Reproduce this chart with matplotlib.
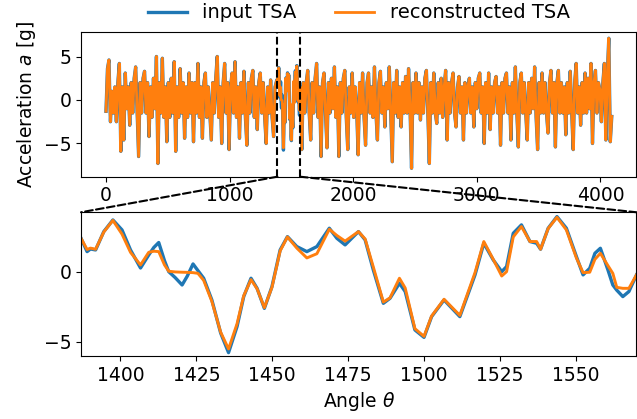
import matplotlib
matplotlib.use('Agg')
import matplotlib.pyplot as plt
from matplotlib.patches import ConnectionPatch
import numpy as np

# full TSA, one value every 12 steps (left of the zoom window)
before_value = [-1.3, 3.6, 4.6, -2.5, 1.0, -1.5, 1.5, -2.5, 2.0, 4.2,
                -5.9, 1.5, -4.6, 3.1, -1.0, 1.5, -2.9, 2.0, -1.5, 2.5,
                3.8, -1.5, -6.5, 2.0, -1.5, 2.5, 3.3, -1.5, 2.0, -4.2,
                1.5, -2.0, 2.5, -1.0, 5.0, -7.3, 2.0, -1.5, 4.8, -2.0,
                1.5, -4.8, 2.0, -2.0, 2.5, -1.5, 4.4, -5.9, 1.5, -2.0,
                3.6, -1.5, 2.0, -4.4, 1.5, -2.0, 3.1, -1.5, 2.0, -4.8,
                2.0, -1.5, 4.2, -2.0, 1.5, -4.4, 2.0, 3.1, -2.0, 1.5,
                -1.5, -4.6, 2.0, -1.5, 2.5, 5.0, -2.0, 1.5, -5.0, 2.0,
                4.2, -1.5, 2.0, -5.7, 1.5, 3.1, -1.5, 4.4, -2.0, 1.5,
                -4.4, 2.0, -1.5, 3.3, -2.0, -5.2, 2.0, -1.5, 2.5, 3.4,
                -2.0, 1.5, -3.4, 2.0, 3.1, -1.5, 2.0, -2.0, -5.0, 1.5,
                -1.5, 2.3, -2.0, -4.2, 1.5, 2.2]
# same, right of the zoom window (angles 1572 ... 4092)
after_value = [1.5, -5.7, 2.0, -1.5, 2.0, 3.4, -1.5, -4.6, 2.0, -1.5,
               2.5, 4.2, -2.0, 1.5, -6.5, 2.0, 3.1, -1.5, -5.5, 2.0,
               -1.5, 2.5, -1.0, 3.8, -2.0, 1.5, -6.5, 2.0, -1.5, 2.5,
               3.4, -2.0, -5.7, 1.5, -1.5, 3.1, -2.0, 1.5, -1.0, -6.3,
               2.0, -1.5, 3.1, -2.0, -5.2, 2.0, 3.1, -1.5, 1.5, -2.0,
               3.8, -1.5, -4.6, 2.0, 3.3, -1.5, 1.5, -3.1, 2.0, -1.0,
               3.8, -1.5, -7.1, 2.0, -1.5, 3.4, -2.0, 1.5, -3.1, 2.0,
               -1.5, 2.7, -1.5, 3.6, -1.0, -7.85, 2.0, -1.5, 3.1, -1.5,
               2.0, -2.3, 1.5, -1.5, 2.5, 3.4, -1.5, -7.3, 2.0, -1.5,
               3.1, -1.5, -2.7, 2.0, -1.5, 2.5, -2.0, 1.5, 3.4, -4.6,
               2.0, -1.5, 2.0, 3.1, -1.5, -3.1, 1.5, 2.7, -1.5, 1.5,
               -4.6, 2.0, -1.5, 1.5, 2.5, -1.5, 1.5, -3.1, 2.0, -1.0,
               2.5, 3.1, -1.5, 1.5, -5.0, 2.0, -1.5, 3.1, -3.4, 1.5,
               -1.5, 2.0, 2.7, -1.5, 1.5, -5.2, 2.0, -1.5, 2.5, 3.1,
               -1.5, 1.5, -4.6, 2.0, -1.5, 3.8, -1.5, -5.4, 2.0, 3.1,
               -1.5, 2.0, -1.5, -4.6, 2.0, -1.5, 2.5, -1.0, 3.8, -2.0,
               -5.7, 2.0, -1.5, 3.1, -1.5, 2.0, -1.5, -3.8, 2.0, 3.4,
               -1.5, 2.0, -5.4, 2.0, 3.4, -1.5, 2.0, -1.5, 1.5, -4.0,
               2.0, -1.5, 3.3, -1.5, -5.7, 2.0, 4.2, -1.5, 1.5, -2.9,
               2.0, -1.5, 3.1, -1.5, 2.5, -1.0, 4.2, -5.0, 2.0, 3.4,
               -1.5, 2.0, 1.2, -2.5, 2.0, 4.2, -4.6, 3.0, 7.1, -4.8,
               -1.9]

# detailed read-off inside the zoom window
zoom_angle = [1387.0, 1389.0, 1390.1, 1391.8, 1394.5, 1397.5, 1400.5, 1403.3, 1406.6, 1409.3,
              1411.0, 1412.6, 1414.5, 1415.9, 1418.0, 1420.3, 1422.0, 1423.9, 1425.5, 1427.4,
              1430.1, 1433.0, 1435.6, 1438.4, 1440.6, 1443.0, 1445.0, 1447.4, 1449.9, 1452.6,
              1455.0, 1458.1, 1461.4, 1464.7, 1468.8, 1471.3, 1474.0, 1478.4, 1480.6, 1483.3,
              1486.6, 1488.8, 1491.9, 1493.8, 1497.0, 1500.0, 1502.5, 1506.6, 1511.8, 1516.8,
              1519.7, 1522.8, 1525.6, 1527.2, 1529.4, 1532.1, 1534.9, 1537.1, 1538.4, 1540.9,
              1543.8, 1546.9, 1550.2, 1552.4, 1554.6, 1556.3, 1558.1, 1560.6, 1562.2, 1563.5,
              1565.5, 1567.5, 1570.0]
zoom_input = [2.40, 1.45, 1.64, 1.57, 2.88, 3.71, 3.00, 1.57, 0.28, 1.21,
              1.75, 2.10, 0.80, 0.02, -0.40, -0.93, -0.30, 0.57, 0.10, -0.45,
              -2.00, -4.36, -5.76, -3.90, -1.76, -0.45, -1.17, -2.60, -1.05, 1.57,
              2.52, 1.81, 1.45, 1.81, 3.12, 2.40, 1.93, 2.88, 2.29, 0.14,
              -2.24, -1.88, -0.81, -1.40, -4.14, -4.67, -3.19, -2.00, -3.19, -0.21,
              2.05, 0.86, 0.02, 0.38, 2.76, 3.36, 2.17, 2.05, 1.62, 3.12,
              3.95, 3.12, 1.10, -0.21, 0.26, 1.33, 1.69, 0.14, -0.93, -1.30,
              -1.76, -1.40, -0.21]
zoom_recon = [2.40, 1.60, 1.70, 1.62, 2.85, 3.68, 2.70, 1.40, 0.50, 1.40,
              1.48, 1.45, 0.50, 0.05, 0.00, -0.02, -0.03, -0.05, -0.10, -0.60,
              -2.10, -4.30, -5.50, -3.70, -1.70, -0.55, -1.20, -2.55, -1.10, 1.50,
              2.50, 1.70, 1.00, 1.30, 3.05, 2.60, 2.20, 2.88, 2.35, 0.35,
              -2.15, -1.85, -0.45, -1.15, -4.05, -4.60, -3.15, -1.95, -3.10, -0.05,
              2.17, 0.90, -0.29, 0.02, 2.50, 3.24, 2.17, 2.17, 1.62, 3.10,
              3.90, 3.00, 1.00, -0.05, -0.02, 0.90, 1.33, 0.45, -0.10, -1.10,
              -1.17, -1.17, -0.21]

x_lo, x_hi = 1387, 1570

plt.rcParams['font.size'] = 13.5
fig = plt.figure(figsize=(6.37, 4.19), dpi=100)
ax1 = fig.add_axes([0.1272, 0.5783, 0.872, 0.346])
ax2 = fig.add_axes([0.1272, 0.1504, 0.872, 0.343])

before_angle = np.arange(len(before_value)) * 12
after_angle = 1572 + np.arange(len(after_value)) * 12
full_angle = np.concatenate([before_angle, zoom_angle, after_angle])
full_input = np.concatenate([before_value, zoom_input, after_value])
full_recon = np.concatenate([before_value, zoom_recon, after_value])

ax1.plot(full_angle, full_input, color='#1f77b4', lw=2.4, label='input TSA')
ax1.plot(full_angle, full_recon, color='#ff7f0e', lw=2.0, label='reconstructed TSA')
ax1.axvline(x_lo, color='k', ls='--', lw=1.5)
ax1.axvline(x_hi, color='k', ls='--', lw=1.5)
ax1.set_xlim(-202, 4292)
ax1.set_ylim(-8.82, 7.85)
ax1.set_xticks([0, 1000, 2000, 3000, 4000])
ax1.set_yticks([-5, 0, 5])
ax1.set_ylabel('Acceleration $a$ [g]')
ax1.legend(loc='center', bbox_to_anchor=(0.5, 1.13), ncol=2, frameon=False, fontsize=14)

ax2.plot(zoom_angle, zoom_input, color='#1f77b4', lw=2.4)
ax2.plot(zoom_angle, zoom_recon, color='#ff7f0e', lw=2.1)
ax2.set_xlim(x_lo, x_hi)
ax2.set_ylim(-6.0, 4.26)
ax2.set_xticks([1400, 1425, 1450, 1475, 1500, 1525, 1550])
ax2.set_yticks([-5, 0])
ax2.set_xlabel(r'Angle $\theta$')

for xa, xb in [(x_lo, 0), (x_hi, 1)]:
    con = ConnectionPatch(xyA=(xa, 0), coordsA=ax1.get_xaxis_transform(),
                          xyB=(xb, 1), coordsB=ax2.transAxes,
                          color='k', ls='--', lw=1.5)
    fig.add_artist(con)

plt.savefig('out.png', dpi=100)
